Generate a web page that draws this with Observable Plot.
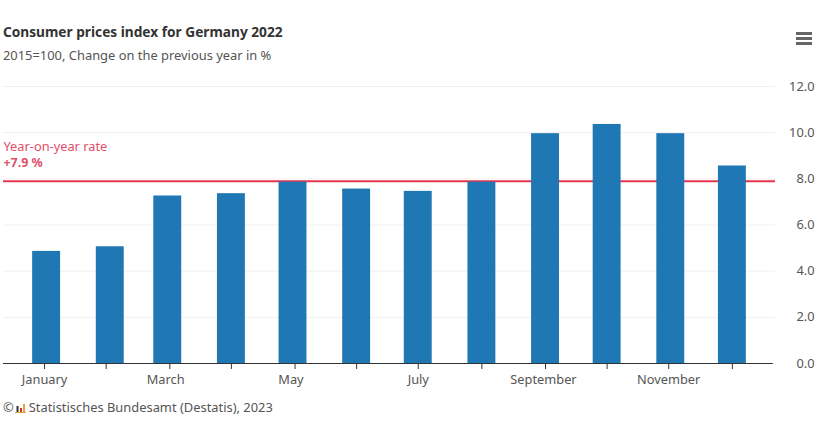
<!DOCTYPE html>
<html><head><meta charset="utf-8">
<script src="https://cdn.jsdelivr.net/npm/d3@7"></script>
<script src="https://cdn.jsdelivr.net/npm/@observablehq/plot@0.6"></script>
<style>
html,body{margin:0;padding:0;background:#fff;width:823px;height:422px;overflow:hidden}
body{position:relative;font-family:"Noto Sans",sans-serif;color:#333}
#t{position:absolute;left:3px;top:22px;font-size:13.7px;font-weight:700;color:#333;white-space:nowrap}
#s{position:absolute;left:3px;top:46px;font-size:12.9px;color:#555;white-space:nowrap}
#c{position:absolute;left:3px;top:398px;font-size:12.9px;color:#555;white-space:nowrap}
#c svg{vertical-align:-1px;margin:0 3px 0 1px}
#m{position:absolute;left:796px;top:32px;width:16px;height:13px}
#chart{position:absolute;left:0;top:70px}
</style></head><body>
<div id="t">Consumer prices index for Germany 2022</div>
<div id="s">2015=100, Change on the previous year in %</div>
<div id="chart"></div>
<div id="c">©<svg width="11" height="10" viewBox="0 0 11 10"><rect x="0" y="9" width="11" height="1" fill="#e8a33d"/><rect x="1.5" y="3" width="2" height="6" fill="#333"/><rect x="5" y="5" width="2" height="4" fill="#c33"/><rect x="8" y="1" width="2" height="8" fill="#e8a33d"/></svg>Statistisches Bundesamt (Destatis), 2023</div>
<svg id="m" viewBox="0 0 16 13"><rect y="0" width="16" height="3" fill="#666"/><rect y="5" width="16" height="3" fill="#666"/><rect y="10" width="16" height="3" fill="#666"/></svg>
<script>
const months = ["2022-01-01","2022-02-01","2022-03-01","2022-04-01","2022-05-01","2022-06-01","2022-07-01","2022-08-01","2022-09-01","2022-10-01","2022-11-01","2022-12-01"];
const values = [4.9,5.1,7.3,7.4,7.9,7.6,7.5,7.9,10.0,10.4,10.0,8.6];
const yTicks = [0,2,4,6,8,10,12];
const rate = 7.9;
const tickDates = ["2021-12-31","2022-01-30","2022-03-02","2022-04-01","2022-05-02","2022-06-01","2022-07-01","2022-08-01","2022-09-01","2022-10-01","2022-10-31","2022-12-01"];
const labelDates = ["2021-12-31","2022-02-28","2022-04-30","2022-07-01","2022-08-31","2022-10-31"];
const labelNames = ["January","March","May","July","September","November"];
const D = s => new Date(s+"T00:00:00Z");
const dayMs = 864e5;
const barHalf = 6.8*dayMs;
const rows = months.map((m,i)=>({d:D(m),v:values[i]}));
const plot = Plot.plot({
  width:823,height:330,
  marginLeft:3,marginRight:48,marginTop:16,marginBottom:37,
  style:{background:"transparent",fontFamily:"'Noto Sans',sans-serif",fontSize:"12px",overflow:"visible"},
  x:{type:"time",domain:[D("2021-12-11"),D("2022-12-22")],axis:null},
  y:{type:"linear",domain:[0,12],axis:null},
  marks:[
    Plot.ruleY(yTicks.filter(t=>t>0),{y:d=>d,stroke:"#f0f0f0",strokeWidth:1}),
    Plot.ruleY([rate],{stroke:"#e5364f",strokeWidth:2}),
    Plot.rect(rows,{x1:d=>new Date(+d.d-barHalf),x2:d=>new Date(+d.d+barHalf),y1:0,y2:"v",fill:"#1f77b4",insetTop:1}),
    Plot.axisX({ticks:tickDates.map(D),tickSize:6,tickFormat:()=>"",label:null,stroke:"#333"}),
    Plot.ruleY([0],{x1:()=>D("2021-12-11"),x2:()=>D("2022-12-21"),stroke:"#333",strokeWidth:1}),
    Plot.text(labelDates.map(D),{x:d=>d,y:0,text:(d,i)=>labelNames[i],dy:16,fill:"#555",fontSize:12.8,textAnchor:"middle"}),
    Plot.axisY({ticks:yTicks,anchor:"right",tickSize:0,tickPadding:10,tickFormat:d3.format(".1f"),label:null,fill:"#555",fontSize:12.8,textAnchor:"end",dx:29}),
    Plot.text(["Year-on-year rate"],{frameAnchor:"left",y:rate,dy:-34,textAnchor:"start",fill:"#e0506a",fontSize:12.8}),
    Plot.text(["+7.9 %"],{frameAnchor:"left",y:rate,dy:-18,textAnchor:"start",fill:"#e0506a",fontSize:12.4,fontWeight:700})
  ]
});
document.getElementById("chart").appendChild(plot);
</script></body></html>
